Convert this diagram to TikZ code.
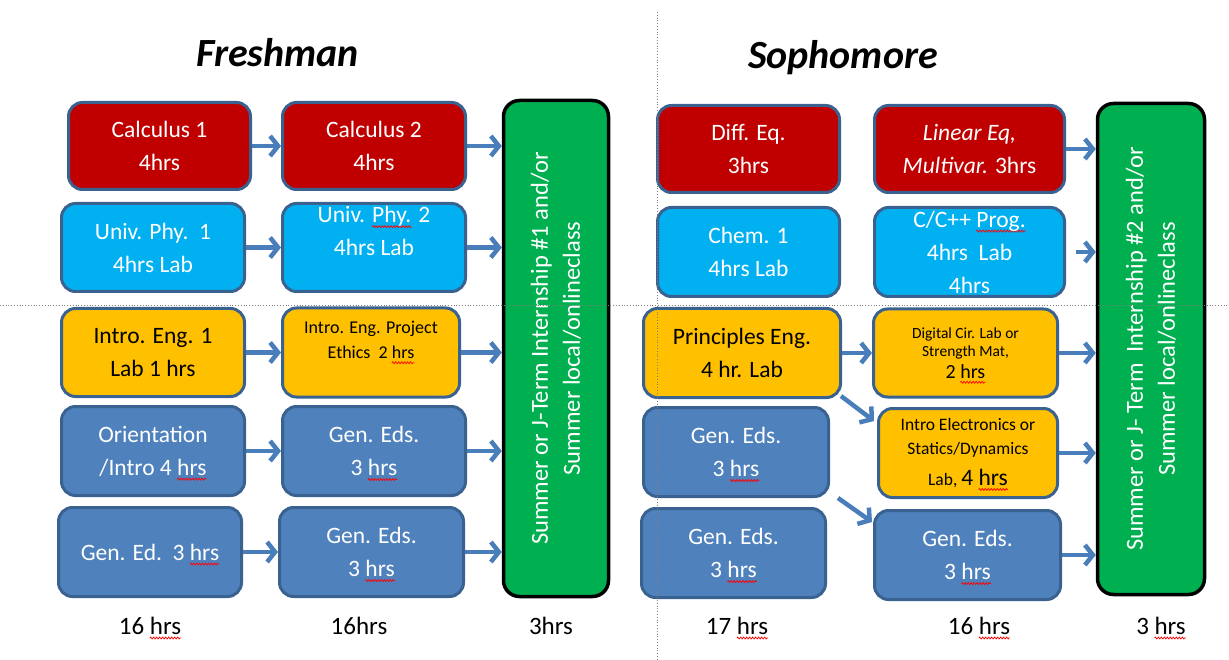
\documentclass[tikz,border=0pt]{standalone}
\usepackage{fontspec}
\setmainfont{Carlito}
\usetikzlibrary{arrows.meta,decorations.pathmorphing}

\definecolor{calcred}{HTML}{C00000}
\definecolor{physcyan}{HTML}{00B0F0}
\definecolor{enggold}{HTML}{FFC000}
\definecolor{genblue}{HTML}{4F81BD}
\definecolor{edgeblue}{HTML}{3A6291}
\definecolor{arrowblue}{HTML}{4A7EBB}
\definecolor{summergreen}{HTML}{00B050}

% red spell-check wave under a word
\newsavebox\wavebox
\newcommand\spellwave[1]{\sbox\wavebox{#1}\tikz[overlay,baseline=0pt]\draw[red, line width=0.7pt,
  fill=none, solid, sharp corners, decorate, decoration={zigzag,amplitude=1pt,segment length=3pt}]
  (0pt,-4pt) -- (\the\wd\wavebox,-4pt);#1}

\tikzset{
  course/.style={draw=edgeblue, line width=3pt, rounded corners=14pt, align=center,
    inner sep=0pt, text=white, font=\fontsize{23.5}{33}\selectfont},
  calc/.style={course, fill=calcred},
  phys/.style={course, fill=physcyan},
  engr/.style={course, fill=enggold, text=black},
  gened/.style={course, fill=genblue},
  summer/.style={draw=black, line width=3.5pt, rounded corners=16pt, fill=summergreen},
  sumtext/.style={rotate=90, align=center, text=white, font=\fontsize{24.5}{32}\selectfont},
  flow/.style={draw=arrowblue, line width=4.5pt, -{Straight Barb[length=8pt,width=20pt]}},
  total/.style={anchor=base, font=\fontsize{25}{30}\selectfont},
  year/.style={anchor=base, font=\fontsize{40}{48}\selectfont\bfseries\itshape},
  guide/.style={draw=gray, dotted, line width=0.8pt}
}

\begin{document}
\begin{tikzpicture}[x=1pt,y=-1pt]
\useasboundingbox (0,0) rectangle (1229,660);

% Freshman
\node[year] (fresh) at (277.5,67) {Freshman};
\node[calc, minimum width=182, minimum height=87] (calcA) at (159.5,146) {Calculus 1\\4hrs};
\node[calc, minimum width=183, minimum height=87] (calcB) at (374,146) {Calculus 2\\4hrs};
\node[phys, minimum width=183, minimum height=88] (phyA) at (153,247.5) {Univ. Phy.\ \ 1\\4hrs Lab};
\node[phys, minimum width=183, minimum height=88] (phyB) at (374,247.5) {Univ. \spellwave{Phy.} 2\\4hrs Lab\\\mbox{}};
\node[engr, minimum width=183, minimum height=88] (engA) at (153,352.5) {Intro. Eng. 1\\Lab 1 hrs};
\node[engr, font=\fontsize{18}{25}\selectfont, minimum width=177, minimum height=89] (engB) at (371,352.5)
  {Intro. Eng. Project\\Ethics\ \ 2 \spellwave{hrs}\\\mbox{}};
\node[gened, minimum width=183, minimum height=89] (oriA) at (153,451) {Orientation\\/Intro 4 \spellwave{hrs}};
\node[gened, minimum width=183, minimum height=89] (genB) at (374,451) {Gen. Eds.\\3 \spellwave{hrs}};
\node[gened, minimum width=183, minimum height=89] (genA) at (150,552) {Gen. Ed.\ \ 3 \spellwave{hrs}};
\node[gened, minimum width=184, minimum height=89] (genC) at (371.5,552) {Gen. Eds.\\3 \spellwave{hrs}};
\node[summer, minimum width=105, minimum height=496] (sumA) at (556,348.5) {};
\node[sumtext] (sumAtext) at (sumA) {Summer or J-Term Internship \#1 and/or\\Summer local/onlineclass};

% Sophomore
\node[year] (soph) at (843,69) {Sophomore};
\node[calc, minimum width=182, minimum height=87] (diffA) at (748.5,149) {Diff. Eq.\\3hrs};
\node[calc, minimum width=190, minimum height=87] (linB) at (969.5,149) {\textit{Linear Eq,}\\\textit{Multivar.} 3hrs};
\node[phys, minimum width=182, minimum height=89] (chemA) at (748.5,252) {Chem. 1\\4hrs Lab};
\node[phys, minimum width=190, minimum height=89] (progB) at (969.5,252) {C/C++ \spellwave{Prog.}\\4hrs\ \ Lab\\4hrs};
\node[engr, minimum width=197, minimum height=89] (prinA) at (742,353) {Principles Eng.\\4 hr. Lab};
\node[engr, font=\fontsize{15.5}{18}\selectfont, minimum width=184, minimum height=88] (digB) at (965.5,353)
  {Digital Cir. Lab or\\Strength Mat,\\[4pt]\fontsize{20}{22}\selectfont 2 \spellwave{hrs}};
\node[gened, minimum width=185, minimum height=89] (genD) at (736,452) {Gen. Eds.\\3 \spellwave{hrs}};
\node[engr, font=\fontsize{17.5}{24}\selectfont, minimum width=179, minimum height=89] (elecB) at (968,453)
  {Intro Electronics or\\Statics/Dynamics\\[7pt]Lab, {\fontsize{23.5}{24}\selectfont 4 \spellwave{hrs}}};
\node[gened, minimum width=184, minimum height=89] (genE) at (733.5,553) {Gen. Eds.\\3 \spellwave{hrs}};
\node[gened, minimum width=186, minimum height=89] (genF) at (967.5,555) {Gen. Eds.\\3 \spellwave{hrs}};
\node[summer, minimum width=107, minimum height=491] (sumB) at (1151,349) {};
\node[sumtext] (sumBtext) at (sumB) {Summer or J- Term\ \ Internship \#2 and/or\\Summer local/onlineclass};

% Arrows
\draw[flow] (calcA) -- (calcB);
\draw[flow] (phyA) -- (phyB);
\draw[flow] (engA) -- (engB);
\draw[flow] (oriA) -- (genB);
\draw[flow] (genA) -- (genC);
\foreach \n in {calcB,phyB,engB,genB,genC}
  \draw[flow] (\n.east) -- (\n.east -| sumA.west);
\draw[flow] (prinA) -- (digB);
\draw[flow] ([shift={(-1,-3)}]prinA.south east) -- ([shift={(-3,14)}]elecB.north west);
\draw[flow] ([shift={(8,0)}]genD.south east) -- ([shift={(-1,13)}]genF.north west);
\foreach \n in {linB,digB,elecB,genF}
  \draw[flow] (\n.east) -- (\n.east -| sumB.west);
\draw[flow, shorten <=10pt] (progB.east) -- (progB.east -| sumB.west);

% Totals
\node[total] (hrsA) at (150,634) {16 \spellwave{hrs}};
\node[total] (hrsB) at (359,634) {16hrs};
\node[total] (hrsC) at (551,634) {3hrs};
\node[total] (hrsD) at (737,634) {17 \spellwave{hrs}};
\node[total] (hrsE) at (979,634) {16 \spellwave{hrs}};
\node[total] (hrsF) at (1161,634) {3 \spellwave{hrs}};

% Guides
\draw[guide] (657,12) -- (657,660);
\draw[guide] (0,305) -- (1229,305);
\end{tikzpicture}
\end{document}
